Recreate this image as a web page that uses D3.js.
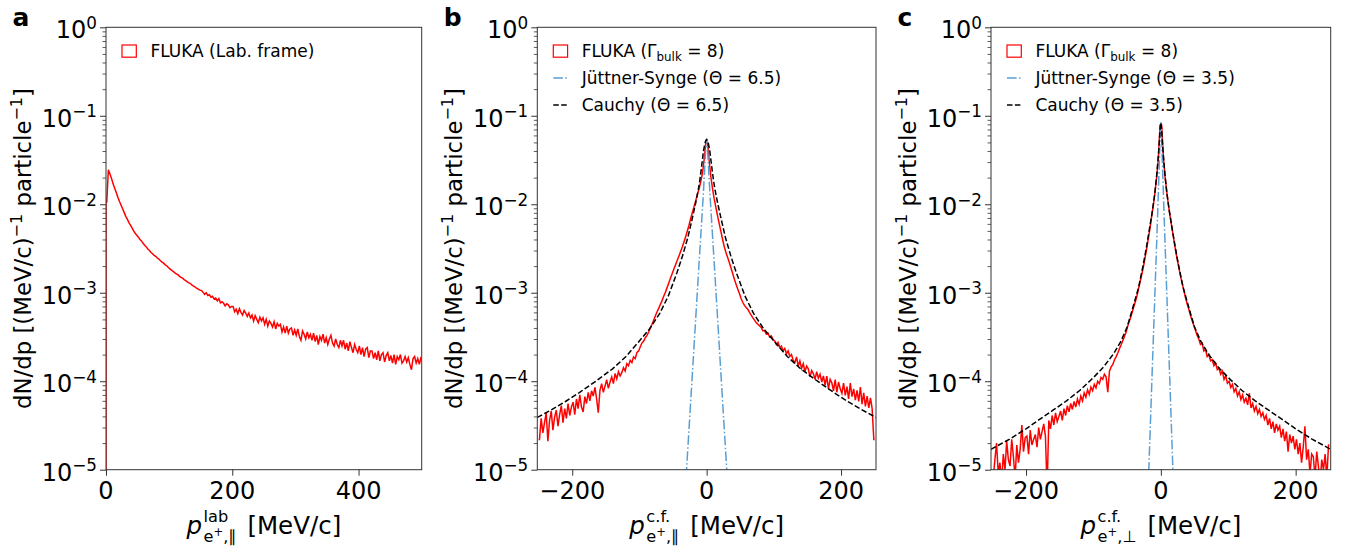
<!DOCTYPE html>
<html><head><meta charset="utf-8">
<script src="https://cdn.jsdelivr.net/npm/d3@7"></script>
<style>
body{margin:0;background:#fff}
svg{display:block}
text{font-family:'DejaVu Sans',sans-serif;fill:#000}
</style>
</head><body>
<svg id="chart" width="1354" height="552"></svg>
<script>
// ---------------- DATA ----------------
const yTicks = [1e-5, 1e-4, 1e-3, 1e-2, 1e-1, 1];
const yTickExp = ["−5", "−4", "−3", "−2", "−1", "0"];
const xTicksA = [0, 200, 400];
const xTicksBC = [-200, 0, 200];
const xTickLabelsA = ["0", "200", "400"];
const xTickLabelsBC = ["−200", "0", "200"];

// FLUKA lab-frame histogram, 2.5 MeV/c bins from 0 to 500
const aEdgesStart = 0, aBinWidth = 2.5;
const flukaLab = [
1.07e-2,2.45e-2,2.2e-2,1.95e-2,1.7e-2,1.52e-2,1.36e-2,1.2e-2,1.08e-2,9.8e-3,
8.9e-3,8.1e-3,7.3e-3,6.8e-3,6.2e-3,5.8e-3,5.4e-3,5.0e-3,4.7e-3,4.45e-3,
4.25e-3,4.0e-3,3.85e-3,3.62e-3,3.45e-3,3.3e-3,3.12e-3,3.0e-3,2.85e-3,2.76e-3,
2.65e-3,2.58e-3,2.47e-3,2.4e-3,2.3e-3,2.22e-3,2.16e-3,2.07e-3,2.02e-3,1.93e-3,
1.86e-3,1.8e-3,1.74e-3,1.69e-3,1.63e-3,1.6e-3,1.54e-3,1.49e-3,1.46e-3,1.41e-3,
1.37e-3,1.33e-3,1.29e-3,1.27e-3,1.22e-3,1.19e-3,1.16e-3,1.12e-3,1.1e-3,1.07e-3,
1.06e-3,1.01e-3,9.6e-4,1.0e-3,9.3e-4,9.5e-4,8.9e-4,9.1e-4,8.5e-4,8.7e-4,
8.1e-4,8.6e-4,7.7e-4,7.9e-4,7.6e-4,7.1e-4,7.5e-4,7.3e-4,6.8e-4,7.0e-4,
7.0e-4,6.1e-4,6.5e-4,5.8e-4,6.6e-4,6.0e-4,5.6e-4,6.3e-4,5.9e-4,5.4e-4,
5.9e-4,5.2e-4,5.6e-4,4.8e-4,5.5e-4,5.0e-4,4.6e-4,5.3e-4,4.8e-4,5.2e-4,
4.4e-4,5.0e-4,4.2e-4,4.8e-4,4.5e-4,4.1e-4,4.7e-4,3.9e-4,4.5e-4,4.2e-4,
4.4e-4,3.6e-4,4.1e-4,3.5e-4,4.2e-4,3.5e-4,3.9e-4,4.0e-4,3.3e-4,3.8e-4,
3.3e-4,3.9e-4,3.2e-4,2.9e-4,3.7e-4,3.4e-4,3.0e-4,3.6e-4,3.1e-4,3.4e-4,
2.9e-4,3.5e-4,2.8e-4,3.3e-4,2.6e-4,3.2e-4,2.9e-4,3.4e-4,2.7e-4,3.1e-4,
2.6e-4,3.0e-4,3.3e-4,2.7e-4,2.5e-4,3.0e-4,2.6e-4,2.4e-4,2.9e-4,2.5e-4,
2.9e-4,2.3e-4,2.7e-4,2.2e-4,2.8e-4,2.4e-4,2.1e-4,2.6e-4,2.3e-4,2.1e-4,
2.5e-4,2.0e-4,2.4e-4,1.9e-4,2.3e-4,2.4e-4,1.85e-4,2.2e-4,2.2e-4,1.8e-4,
2.1e-4,1.75e-4,2.2e-4,1.7e-4,2.0e-4,2.1e-4,1.65e-4,1.95e-4,2.1e-4,1.7e-4,
1.95e-4,1.6e-4,2.0e-4,1.55e-4,1.9e-4,1.75e-4,2.0e-4,1.6e-4,1.7e-4,1.9e-4,
1.65e-4,1.85e-4,1.55e-4,1.35e-4,1.8e-4,1.9e-4,1.6e-4,1.8e-4,1.55e-4,1.85e-4];

// comoving-frame histograms, 2.5 MeV/c bins from -250 to 250
const cfEdgesStart = -250, cfBinWidth = 2.5;
const flukaPar = [
2.2e-5,3.8e-5,2.6e-5,3.4e-5,4.4e-5,2.1e-5,3.6e-5,4.6e-5,2.8e-5,3.9e-5,
4.7e-5,3.1e-5,4.2e-5,5.3e-5,3.4e-5,4.9e-5,3.8e-5,5.6e-5,4.1e-5,5.1e-5,
5.8e-5,4.2e-5,6.3e-5,4.9e-5,7.0e-5,5.1e-5,4.5e-5,6.7e-5,5.6e-5,7.5e-5,
6.0e-5,7.8e-5,6.8e-5,8.5e-5,6.3e-5,4.4e-5,7.9e-5,9.4e-5,7.5e-5,8.8e-5,
1.04e-4,8.3e-5,9.8e-5,1.12e-4,9.4e-5,1.22e-4,1.06e-4,1.28e-4,1.15e-4,1.25e-4,
1.42e-4,1.3e-4,1.58e-4,1.5e-4,1.72e-4,1.62e-4,1.88e-4,1.8e-4,2.12e-4,2.2e-4,
2.45e-4,2.7e-4,2.85e-4,3.1e-4,3.3e-4,3.6e-4,4.0e-4,4.4e-4,4.9e-4,5.5e-4,
6.1e-4,6.7e-4,7.4e-4,8.2e-4,9.2e-4,1.02e-3,1.15e-3,1.3e-3,1.47e-3,1.65e-3,
1.85e-3,2.07e-3,2.33e-3,2.6e-3,2.92e-3,3.28e-3,3.75e-3,4.3e-3,4.98e-3,5.8e-3,
6.9e-3,8.1e-3,9.4e-3,1.1e-2,1.3e-2,1.5e-2,1.8e-2,2.25e-2,3.2e-2,5.0e-2,
5.0e-2,3.1e-2,2.05e-2,1.5e-2,1.15e-2,9.2e-3,7.4e-3,6.0e-3,4.9e-3,4.0e-3,
3.3e-3,2.85e-3,2.5e-3,2.2e-3,1.9e-3,1.65e-3,1.42e-3,1.25e-3,1.1e-3,9.8e-4,
8.6e-4,7.8e-4,7.2e-4,6.8e-4,6.5e-4,6.0e-4,5.6e-4,5.2e-4,4.9e-4,4.6e-4,
4.4e-4,4.2e-4,4.05e-4,3.7e-4,3.75e-4,3.4e-4,3.5e-4,3.15e-4,3.25e-4,2.95e-4,
2.85e-4,2.6e-4,2.75e-4,2.4e-4,2.5e-4,2.2e-4,2.35e-4,2.05e-4,2.2e-4,1.9e-4,
2.0e-4,1.72e-4,1.62e-4,1.88e-4,1.48e-4,1.7e-4,1.4e-4,1.58e-4,1.28e-4,1.48e-4,
1.38e-4,1.12e-4,1.32e-4,1.22e-4,1.05e-4,1.28e-4,1.08e-4,1.2e-4,9.8e-5,1.15e-4,
9.0e-5,1.14e-4,8.2e-5,1.05e-4,9.6e-5,7.8e-5,1.04e-4,7.5e-5,9.8e-5,8.2e-5,
7.3e-5,9.5e-5,6.9e-5,8.7e-5,6.3e-5,9.5e-5,6.7e-5,8.2e-5,6.1e-5,7.9e-5,
5.9e-5,8.6e-5,5.5e-5,7.4e-5,5.2e-5,6.8e-5,5.0e-5,6.5e-5,4.9e-5,2.2e-5];

const flukaPerp = [
8e-6,1.3e-5,2.0e-5,9e-6,1.2e-5,7e-6,1.5e-5,1.0e-5,2.1e-5,1.3e-5,
1.1e-5,2.2e-5,1.4e-5,8e-6,1.9e-5,1.2e-5,1.7e-5,3.2e-5,1.6e-5,2.3e-5,
2.4e-5,1.5e-5,2.8e-5,1.9e-5,2.2e-5,2.5e-5,1.8e-5,3.0e-5,2.2e-5,2.7e-5,
3.3e-5,2.4e-5,6e-6,3.6e-5,2.9e-5,4.1e-5,3.2e-5,4.4e-5,3.5e-5,4.0e-5,
4.6e-5,3.6e-5,4.9e-5,4.1e-5,5.3e-5,4.5e-5,5.6e-5,4.8e-5,5.9e-5,5.1e-5,
6.3e-5,5.5e-5,6.8e-5,6.0e-5,7.4e-5,6.6e-5,8.0e-5,7.1e-5,8.6e-5,7.8e-5,
9.2e-5,8.4e-5,1.0e-4,9.4e-5,1.1e-4,1.05e-4,1.2e-4,1.12e-4,7.5e-5,1.3e-4,
1.45e-4,1.55e-4,1.75e-4,1.9e-4,2.1e-4,2.35e-4,2.6e-4,2.9e-4,3.25e-4,3.65e-4,
4.3e-4,4.9e-4,5.6e-4,6.5e-4,7.5e-4,8.7e-4,1.05e-3,1.28e-3,1.55e-3,1.9e-3,
2.4e-3,3.1e-3,4.0e-3,5.3e-3,7.2e-3,9.6e-3,1.35e-2,2.0e-2,3.2e-2,7.8e-2,
7.8e-2,3.4e-2,2.05e-2,1.38e-2,9.8e-3,7.3e-3,5.5e-3,4.2e-3,3.2e-3,2.5e-3,
2.0e-3,1.6e-3,1.32e-3,1.1e-3,9.0e-4,7.6e-4,6.6e-4,5.6e-4,4.9e-4,4.3e-4,
3.8e-4,3.3e-4,3.0e-4,2.6e-4,2.7e-4,2.2e-4,2.3e-4,1.9e-4,2.0e-4,1.7e-4,
1.75e-4,1.5e-4,1.6e-4,1.35e-4,1.4e-4,1.2e-4,1.3e-4,1.05e-4,1.15e-4,9.5e-5,
1.0e-4,8.5e-5,9.2e-5,7.6e-5,8.3e-5,6.8e-5,7.6e-5,6.2e-5,7.0e-5,5.8e-5,
6.4e-5,5.4e-5,7.3e-5,5.0e-5,5.6e-5,4.6e-5,5.2e-5,4.3e-5,4.8e-5,4.0e-5,
4.4e-5,3.7e-5,4.1e-5,3.2e-5,3.8e-5,2.9e-5,3.5e-5,2.6e-5,3.3e-5,2.8e-5,
3.1e-5,2.3e-5,2.9e-5,2.1e-5,2.7e-5,1.6e-5,2.5e-5,2.0e-5,2.4e-5,1.7e-5,
2.2e-5,1.5e-5,2.0e-5,1.2e-5,1.8e-5,3.1e-5,1.3e-5,1.7e-5,9e-6,1.5e-5,
1.4e-5,8e-6,1.6e-5,1.1e-5,7e-6,1.3e-5,1.0e-5,1.5e-5,8e-6,1.9e-5];

const cauchyParX = [-252,-230,-210,-190,-165,-140,-120,-101,-85,-70,-57,-44,-36,-28,-22,-16.5,-12.5,-10,-8,-6.5,-4.7,-3,-1.5,0,
  1.5,3,4.7,6.5,8,10,12.5,16.5,22,28,36,44,57,70,85,101,120,140,165,190,210,230,252];
const cauchyParY = [3.9e-5,4.8e-5,5.9e-5,7.4e-5,1.0e-4,1.38e-4,1.9e-4,2.8e-4,3.9e-4,5.8e-4,9.2e-4,1.7e-3,2.6e-3,4.2e-3,6.6e-3,1.02e-2,1.45e-2,1.9e-2,2.5e-2,3.1e-2,4.0e-2,4.7e-2,5.2e-2,5.4e-2,
  5.2e-2,4.7e-2,4.0e-2,3.1e-2,2.5e-2,1.9e-2,1.45e-2,1.02e-2,6.6e-3,4.2e-3,2.6e-3,1.7e-3,9.2e-4,5.8e-4,3.9e-4,2.8e-4,1.9e-4,1.38e-4,1.0e-4,7.4e-5,5.9e-5,4.8e-5,3.9e-5];
const juttnerParX = [-36,-30,-25,-20,-15,-10,-5,-2,-1,0,1,2,5,10,15,20,25,30,36];
const juttnerParY = [1.6e-6,9.8e-6,4.1e-5,1.74e-4,7.4e-4,3.1e-3,1.28e-2,3.4e-2,4.7e-2,5.5e-2,4.7e-2,3.4e-2,1.28e-2,3.1e-3,7.4e-4,1.74e-4,4.1e-5,9.8e-6,1.6e-6];

const cauchyPerpX = [-252,-225,-200,-180,-160,-140,-120,-100,-85,-70,-59,-50,-42,-33,-26,-21,-17,-13,-9,-6.4,-4.5,-3,-2,-1,0,
  1,2,3,4.5,6.4,9,13,17,21,26,33,42,50,59,70,85,100,120,140,160,180,200,225,252];
const cauchyPerpY = [1.7e-5,2.2e-5,2.9e-5,3.7e-5,4.7e-5,6.0e-5,7.9e-5,1.1e-4,1.45e-4,2.05e-4,2.85e-4,4.1e-4,6.6e-4,1.15e-3,2.1e-3,3.4e-3,5.2e-3,8.0e-3,1.32e-2,2.05e-2,3.0e-2,4.2e-2,5.5e-2,7.2e-2,8.35e-2,
  7.2e-2,5.5e-2,4.2e-2,3.0e-2,2.05e-2,1.32e-2,8.0e-3,5.2e-3,3.4e-3,2.1e-3,1.15e-3,6.6e-4,4.1e-4,2.85e-4,2.05e-4,1.45e-4,1.1e-4,7.9e-5,6.0e-5,4.7e-5,3.7e-5,2.9e-5,2.2e-5,1.7e-5];
const juttnerPerpX = [-22,-18,-15,-10,-5,-2.5,-1,-0.5,0,0.5,1,2.5,5,10,15,18,22];
const juttnerPerpY = [1.2e-6,9.3e-6,4.3e-5,5.4e-4,6.8e-3,2.6e-2,6.2e-2,7.7e-2,8.5e-2,7.7e-2,6.2e-2,2.6e-2,6.8e-3,5.4e-4,4.3e-5,9.3e-6,1.2e-6];

// ---------------- DRAWING ----------------
const svg = d3.select('#chart');
const TOP = 27.3, BOT = 469.7;
const FS = 24;          // tick label size
const LFS = 17;         // legend size
const RED = '#ff0000', BLUE = '#5a9fd4', BLACK = '#000';

const y = d3.scaleLog().domain([1e-5, 1]).range([BOT, TOP]);
const minorY = [];
[-5,-4,-3,-2,-1].forEach(e => { for (let m = 2; m <= 9; m++) minorY.push(m * Math.pow(10, e)); });

function rich(textSel, parts) {
  let cur = 0;
  parts.forEach(p => {
    const off = p.off || 0;
    const ts = textSel.append('tspan').text(p.t).attr('dy', off - cur);
    if (p.size) ts.attr('font-size', p.size);
    if (p.it) ts.attr('font-style', 'italic');
    cur = off;
  });
  return textSel;
}

const panels = [
  { id: 'a', left: 106, right: 421.7, xdom: [0, 500], ticks: xTicksA, tickLabels: xTickLabelsA,
    hist: flukaLab, start: aEdgesStart, bw: aBinWidth, fromFloor: true,
    xsup: 'lab', xsubTail: ',∥',
    legend: [{ kind: 'rect', parts: [{ t: 'FLUKA (Lab. frame)' }] }] },
  { id: 'b', left: 537.3, right: 876, xdom: [-252, 252], ticks: xTicksBC, tickLabels: xTickLabelsBC,
    hist: flukaPar, start: cfEdgesStart, bw: cfBinWidth, fromFloor: false,
    xsup: 'c.f.', xsubTail: ',∥',
    jx: juttnerParX, jy: juttnerParY, cx: cauchyParX, cy: cauchyParY,
    legend: [
      { kind: 'rect', parts: [{ t: 'FLUKA (Γ' }, { t: 'bulk', size: 11.9, off: 3.8 }, { t: ' = 8)', off: 0 }] },
      { kind: 'dashdot', parts: [{ t: 'Jüttner-Synge (Θ = 6.5)' }] },
      { kind: 'dash', parts: [{ t: 'Cauchy (Θ = 6.5)' }] } ] },
  { id: 'c', left: 991, right: 1330.7, xdom: [-252, 252], ticks: xTicksBC, tickLabels: xTickLabelsBC,
    hist: flukaPerp, start: cfEdgesStart, bw: cfBinWidth, fromFloor: false,
    xsup: 'c.f.', xsubTail: ',⊥',
    jx: juttnerPerpX, jy: juttnerPerpY, cx: cauchyPerpX, cy: cauchyPerpY,
    legend: [
      { kind: 'rect', parts: [{ t: 'FLUKA (Γ' }, { t: 'bulk', size: 11.9, off: 3.8 }, { t: ' = 8)', off: 0 }] },
      { kind: 'dashdot', parts: [{ t: 'Jüttner-Synge (Θ = 3.5)' }] },
      { kind: 'dash', parts: [{ t: 'Cauchy (Θ = 3.5)' }] } ] }
];

panels.forEach(P => {
  const x = d3.scaleLinear().domain(P.xdom).range([P.left, P.right]);
  const g = svg.append('g');
  const clipId = 'clip-' + P.id;
  svg.append('defs').append('clipPath').attr('id', clipId)
    .append('rect').attr('x', P.left).attr('y', TOP).attr('width', P.right - P.left).attr('height', BOT - TOP);

  const plot = g.append('g').attr('clip-path', `url(#${clipId})`);

  // histogram drawn through bin centres
  const n = P.hist.length;
  const pts = P.hist.map((v, i) => [P.start + (i + 0.5) * P.bw, v]);
  if (P.fromFloor) { pts.unshift([P.start, P.hist[0]]); pts.unshift([P.start, 1e-9]); }
  else pts.unshift([P.start, P.hist[0]]);
  pts.push([P.start + n * P.bw, P.hist[n - 1]]);
  const lin = d3.line().x(d => x(d[0])).y(d => y(d[1]));
  plot.append('path').attr('d', lin(pts)).attr('fill', 'none')
    .attr('stroke', RED).attr('stroke-width', 1.5).attr('stroke-linejoin', 'miter');

  if (P.jx) {
    plot.append('path').attr('d', lin(P.jx.map((v, i) => [v, P.jy[i]]))).attr('fill', 'none')
      .attr('stroke', BLUE).attr('stroke-width', 1.5).attr('stroke-dasharray', '9.6,2.4,1.5,2.4');
    plot.append('path').attr('d', lin(P.cx.map((v, i) => [v, P.cy[i]]))).attr('fill', 'none')
      .attr('stroke', BLACK).attr('stroke-width', 1.5).attr('stroke-dasharray', '5.5,2.4');
  }

  // spines
  g.append('rect').attr('x', P.left).attr('y', TOP).attr('width', P.right - P.left).attr('height', BOT - TOP)
    .attr('fill', 'none').attr('stroke', '#333').attr('stroke-width', 1);

  // x ticks
  const xa = g.append('g').attr('transform', `translate(0,${BOT})`)
    .call(d3.axisBottom(x).tickValues(P.ticks).tickSize(6).tickFormat(''));
  xa.select('.domain').remove();
  xa.selectAll('line').attr('stroke', '#333').attr('stroke-width', 1);
  P.ticks.forEach((t, i) => {
    g.append('text').attr('x', x(t)).attr('y', BOT + 29.5).attr('text-anchor', 'middle')
      .attr('font-size', FS).text(P.tickLabels[i]);
  });

  // y ticks
  const ya = g.append('g').attr('transform', `translate(${P.left},0)`)
    .call(d3.axisLeft(y).tickValues(yTicks).tickSize(6).tickFormat(''));
  ya.select('.domain').remove();
  ya.selectAll('line').attr('stroke', '#333').attr('stroke-width', 1);
  const ym = g.append('g').attr('transform', `translate(${P.left},0)`)
    .call(d3.axisLeft(y).tickValues(minorY).tickSize(3.5).tickFormat(''));
  ym.select('.domain').remove();
  ym.selectAll('line').attr('stroke', '#333').attr('stroke-width', 0.8);
  yTicks.forEach((t, i) => {
    const tx = g.append('text').attr('x', P.left - 9).attr('y', y(t) + 11).attr('text-anchor', 'end')
      .attr('font-size', FS);
    rich(tx, [{ t: '10' }, { t: yTickExp[i], size: 16.8, off: -9.5 }]);
  });

  // y label
  const yl = g.append('text').attr('text-anchor', 'middle').attr('font-size', 22.8)
    .attr('transform', `translate(${P.left - 75},${(TOP + BOT) / 2}) rotate(-90)`);
  rich(yl, [{ t: 'dN/dp [(MeV/c)' }, { t: '−1', size: 16, off: -9 }, { t: ' particle', off: 0 },
            { t: '−1', size: 16, off: -9 }, { t: ']', off: 0 }]);

  // x label (p with stacked super/subscripts)
  const xl = g.append('g');
  const LS = 24.5, SS = 16.2;
  const tp = xl.append('text').attr('x', 0).attr('y', 0).attr('font-size', LS).attr('font-style', 'italic').text('p');
  const wp = tp.node().getComputedTextLength() + 1.5;
  const ts = xl.append('text').attr('x', wp).attr('y', -12).attr('font-size', SS).text(P.xsup);
  const tb = xl.append('text').attr('x', wp).attr('y', 7.5).attr('font-size', SS);
  rich(tb, [{ t: 'e' }, { t: '+', size: 11.5, off: -5.5 }, { t: P.xsubTail, off: 0 }]);
  const wsc = Math.max(ts.node().getComputedTextLength(), tb.node().getComputedTextLength());
  const tm = xl.append('text').attr('x', wp + wsc + 11).attr('y', 0).attr('font-size', LS).text('[MeV/c]');
  const total = wp + wsc + 11 + tm.node().getComputedTextLength();
  xl.attr('transform', `translate(${(P.left + P.right) / 2 - total / 2},534)`);

  // panel letter
  g.append('text').attr('x', P.left - 93.5).attr('y', 26).attr('font-size', 25).attr('font-weight', 'bold').text(P.id);

  // legend
  P.legend.forEach((L, i) => {
    const base = 56.7 + i * 27;
    const hx = P.left + 16;
    if (L.kind === 'rect') {
      g.append('rect').attr('x', hx).attr('y', base - 11.7).attr('width', 14.3).attr('height', 12.2)
        .attr('fill', 'none').attr('stroke', RED).attr('stroke-width', 1.2);
    } else {
      g.append('line').attr('x1', hx).attr('x2', hx + 14.3).attr('y1', base - 5.7).attr('y2', base - 5.7)
        .attr('stroke', L.kind === 'dash' ? BLACK : BLUE).attr('stroke-width', 1.5)
        .attr('stroke-dasharray', L.kind === 'dash' ? '5.5,2.4' : '9.6,2.4,1.5,2.4');
    }
    const lt = g.append('text').attr('x', hx + 28.4).attr('y', base).attr('font-size', LFS);
    rich(lt, L.parts);
  });
});
</script>
</body></html>
